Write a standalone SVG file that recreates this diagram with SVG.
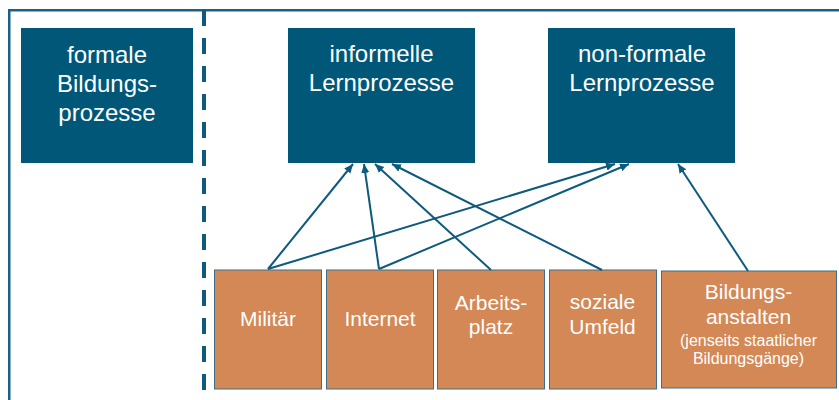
<svg xmlns="http://www.w3.org/2000/svg" width="839" height="400" viewBox="0 0 839 400">
  <defs>
    <style>
      .frame { fill: none; stroke: #1c6085; stroke-width: 2.5; }
      .divider { stroke: #0f5a7c; stroke-width: 4; stroke-dasharray: 16 12; }
      .blue { fill: #005778; }
      .orange { fill: #d38855; stroke: #3e6f86; stroke-width: 1; }
      .tb { fill: #ffffff; font-family: "Liberation Sans", Arial, sans-serif; font-size: 24px; text-anchor: middle; }
      .to { fill: #ffffff; font-family: "Liberation Sans", Arial, sans-serif; font-size: 21px; text-anchor: middle; }
      .ts { fill: #ffffff; font-family: "Liberation Sans", Arial, sans-serif; font-size: 16px; text-anchor: middle; }
      .conn { stroke: #0e5a7c; stroke-width: 2; fill: none; marker-end: url(#arrow); }
    </style>
    <marker id="arrow" markerUnits="userSpaceOnUse" markerWidth="12" markerHeight="10" refX="9" refY="4" orient="auto">
      <path d="M0,0 L9,4 L0,8 Z" fill="#0e5a7c"/>
    </marker>
  </defs>

  <rect class="frame" x="9.25" y="10.25" width="840" height="400"/>
  <line class="divider" x1="204" y1="10" x2="204" y2="391"/>

  <g id="formale">
    <rect class="blue" x="21" y="28" width="172" height="135"/>
    <text class="tb" x="107" y="63">formale</text>
    <text class="tb" x="107" y="92">Bildungs-</text>
    <text class="tb" x="107" y="121">prozesse</text>
  </g>
  <g id="informelle">
    <rect class="blue" x="288" y="28" width="187" height="135"/>
    <text class="tb" x="381.5" y="62">informelle</text>
    <text class="tb" x="381.5" y="91">Lernprozesse</text>
  </g>
  <g id="nonformale">
    <rect class="blue" x="548" y="28" width="187" height="135"/>
    <text class="tb" x="642" y="62">non-formale</text>
    <text class="tb" x="642" y="91">Lernprozesse</text>
  </g>

  <g id="militaer">
    <rect class="orange" x="214.5" y="270" width="107" height="119"/>
    <text class="to" x="268" y="326">Militär</text>
  </g>
  <g id="internet">
    <rect class="orange" x="326.5" y="270" width="107" height="119"/>
    <text class="to" x="380" y="326">Internet</text>
  </g>
  <g id="arbeitsplatz">
    <rect class="orange" x="437.5" y="270" width="107" height="119"/>
    <text class="to" x="491" y="310">Arbeits-</text>
    <text class="to" x="491" y="334">platz</text>
  </g>
  <g id="soziale">
    <rect class="orange" x="549.5" y="270" width="107" height="119"/>
    <text class="to" x="602.5" y="309">soziale</text>
    <text class="to" x="602.5" y="334">Umfeld</text>
  </g>
  <g id="bildungsanstalten">
    <rect class="orange" x="661.5" y="271" width="175" height="117"/>
    <text class="to" x="748.5" y="299">Bildungs-</text>
    <text class="to" x="748.5" y="324">anstalten</text>
    <text class="ts" x="748.5" y="346">(jenseits staatlicher</text>
    <text class="ts" x="748.5" y="364">Bildungsgänge)</text>
  </g>

  <g id="connectors">
    <line class="conn" x1="268" y1="269" x2="353" y2="164"/>
    <line class="conn" x1="268" y1="269" x2="615" y2="164"/>
    <line class="conn" x1="379" y1="269" x2="364" y2="164"/>
    <line class="conn" x1="379" y1="269" x2="629" y2="164"/>
    <line class="conn" x1="491" y1="270" x2="375" y2="164"/>
    <line class="conn" x1="602" y1="270" x2="392" y2="164"/>
    <line class="conn" x1="748" y1="271" x2="678" y2="164"/>
  </g>
</svg>
